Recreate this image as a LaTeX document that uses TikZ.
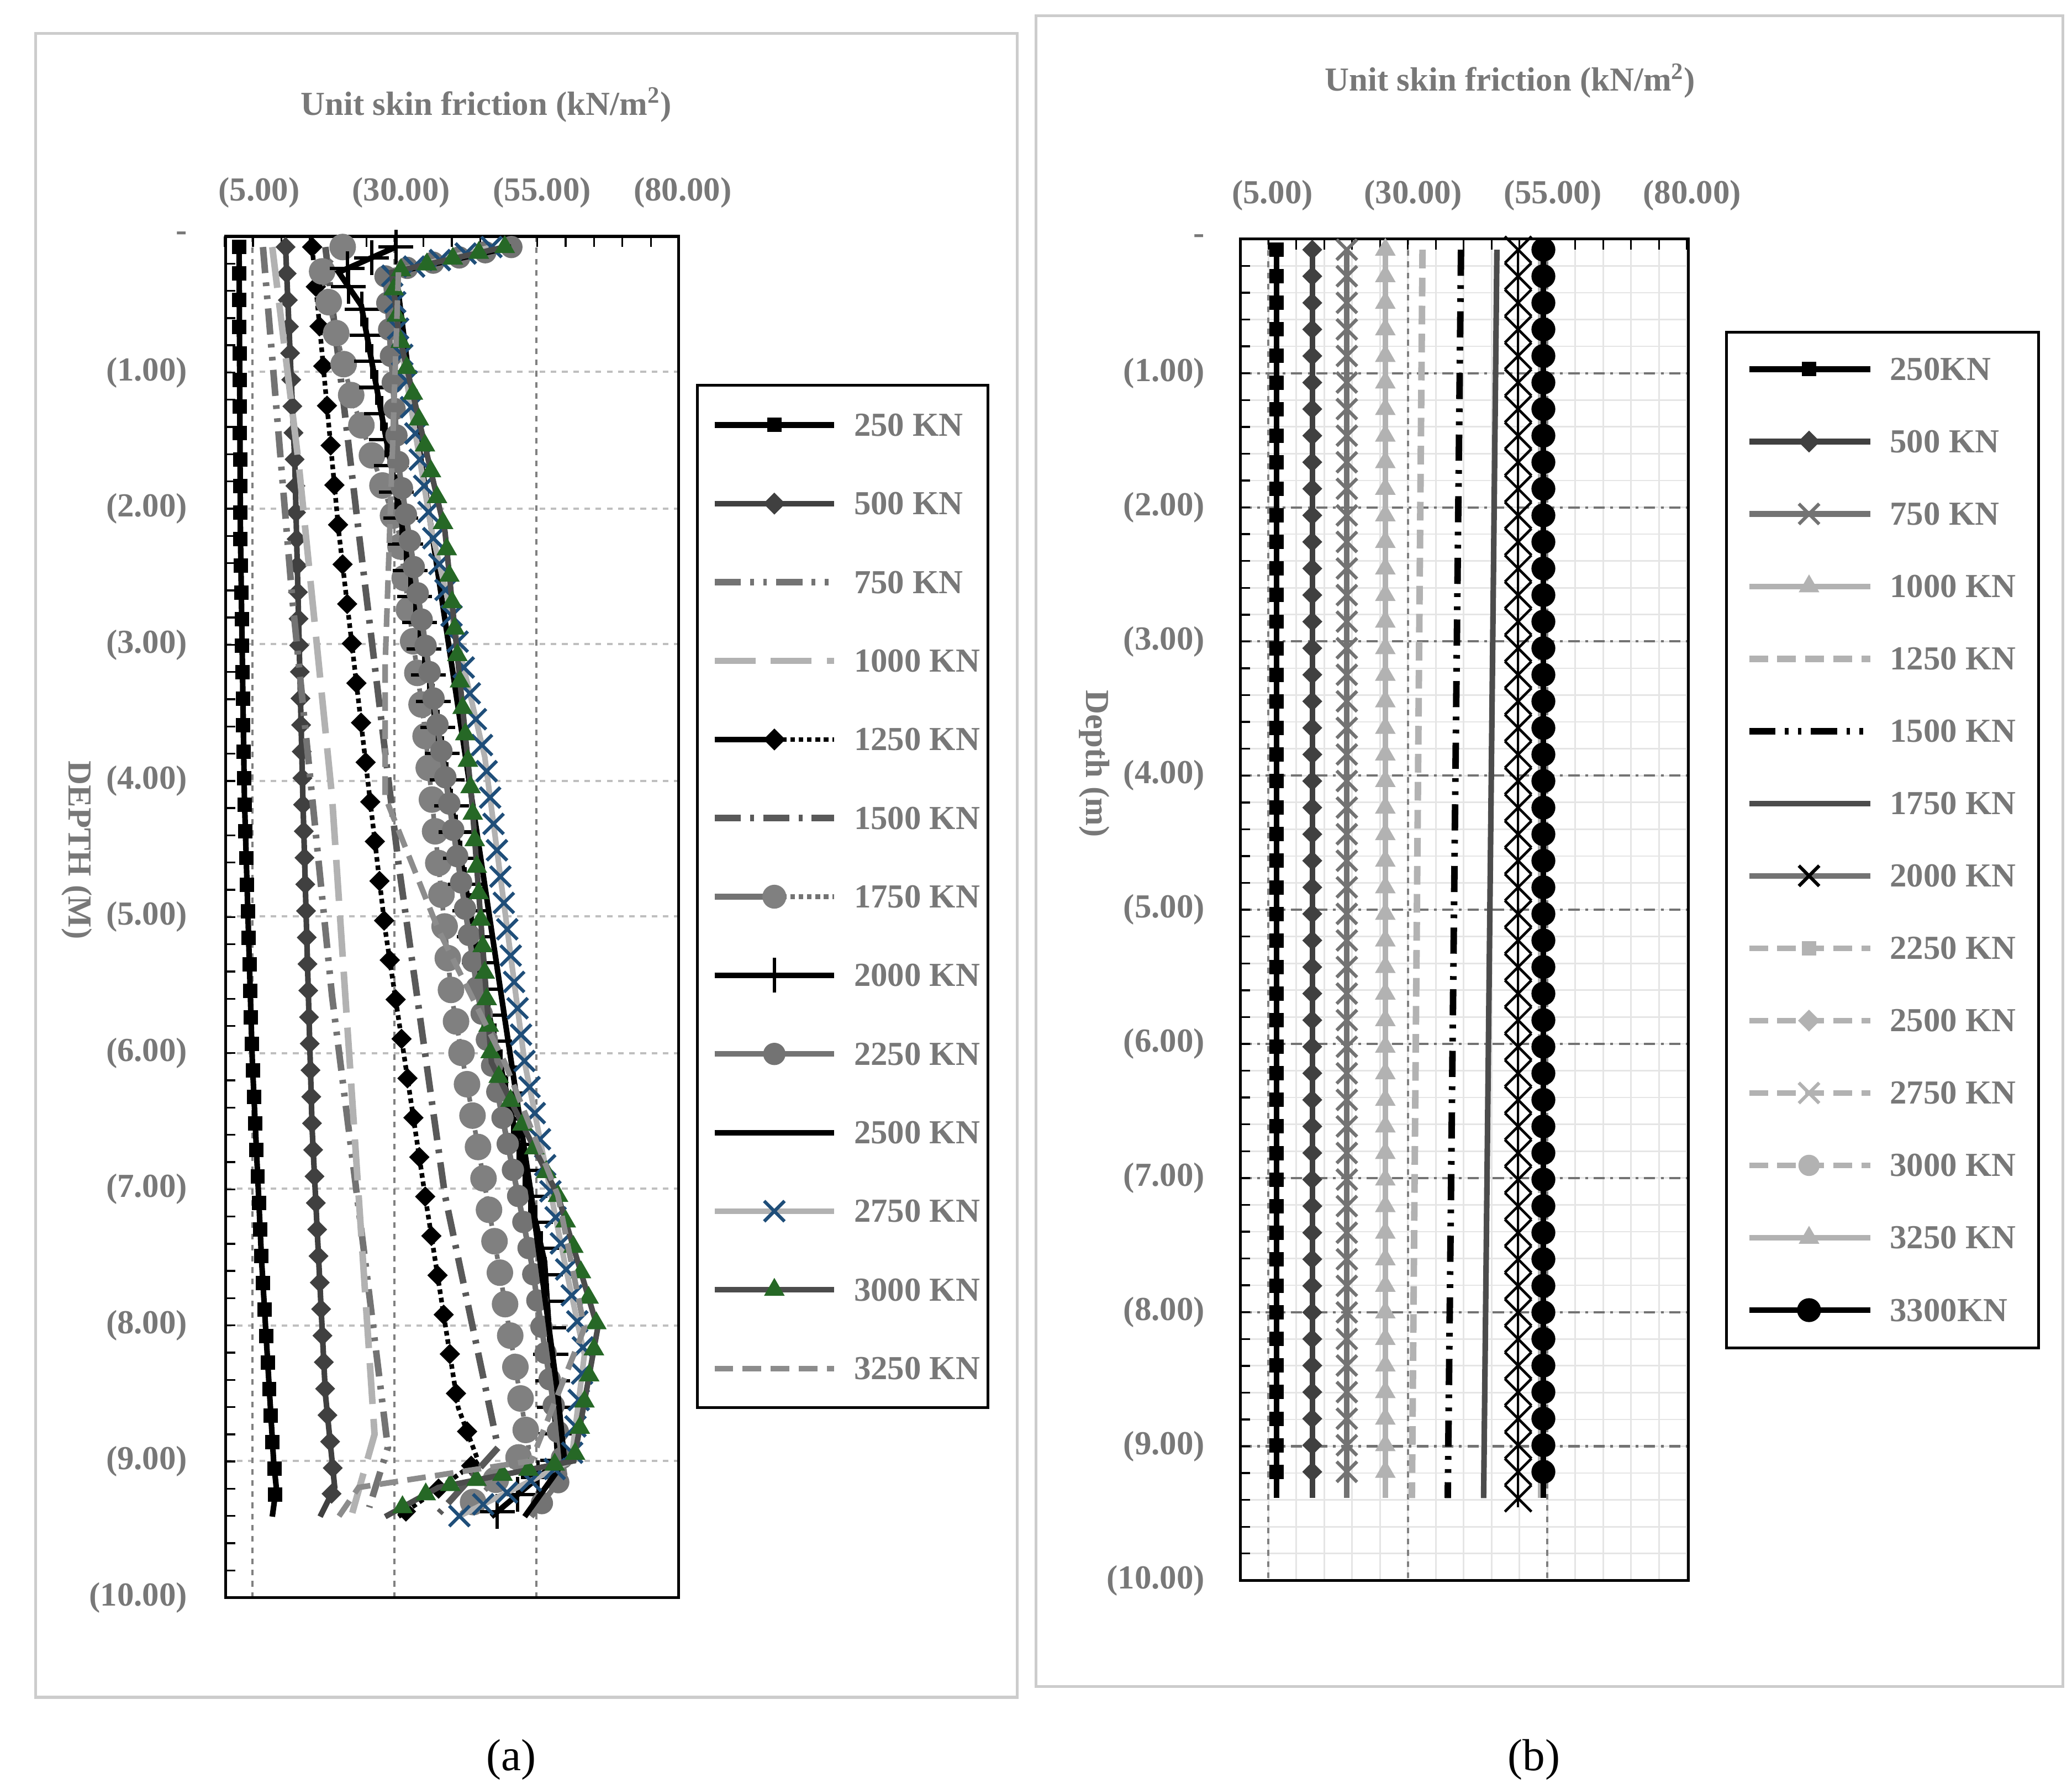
\documentclass[tikz,border=0pt]{standalone}
\usepackage{fontspec}
\setmainfont{Liberation Serif}
\usetikzlibrary{decorations.markings,shapes.geometric,shapes.misc}
\definecolor{tx}{RGB}{120,120,120}
\definecolor{bl}{RGB}{31,78,121}
\definecolor{gr}{RGB}{38,104,38}
\tikzset{
 mk/.style 2 args={postaction={decorate,decoration={markings,mark=between positions 0 and 1 step #2 with {\node[#1]{};}}}},
 sq/.style={fill=#1,inner sep=0,minimum size=0.27cm},
 dia/.style={diamond,fill=#1,inner sep=0,minimum size=0.42cm},
 cir/.style={circle,inner sep=0,minimum size=#1},
 crs/.style={cross out,draw=#1,line width=1.8pt,inner sep=0,minimum size=0.32cm},
 pls/.style={cross out,rotate=45,draw=#1,line width=1.8pt,inner sep=0,minimum size=0.4cm},
 tri/.style={regular polygon,regular polygon sides=3,fill=#1,inner sep=0,minimum size=0.45cm},
 lab/.style={font=\fontsize{18}{22}\selectfont\bfseries,text=tx},
 leg/.style={font=\fontsize{18}{22}\selectfont\bfseries,text=tx,anchor=west},
 frame/.style={draw=black!20,line width=1.5pt},
 ln/.style={line width=3pt},
 dsh/.style={dash pattern=on 10pt off 5pt},
}
\begin{document}
\begin{tikzpicture}[x=0.025cm,y=-0.025cm]
\useasboundingbox (0,0) rectangle (1560,1343);
% ================= panel a
\draw[frame] (27,25) rectangle (766,1278);
\foreach \y in {280,383,485,588,690,793,895,998,1100} \draw[black!25,dashed,line width=1.2pt] (170,\y)--(511,\y);
\foreach \x in {190,297,404} \draw[black!50,dashed,line width=1.2pt] (\x,178)--(\x,1203);
\draw[line width=1.5pt] (170,178) rectangle (511,1203);
\foreach \i in {0,...,16} \draw[line width=1pt] (169+21.4*\i,178)--(169+21.4*\i,186);
\foreach \i in {0,...,50} \draw[line width=1pt] (170,178+20.5*\i)--(177,178+20.5*\i);
\node[lab] at (366,79) {Unit skin friction (kN/m\textsuperscript{2})};
\node[lab] at (195,145) {(5.00)};\node[lab] at (302,145) {(30.00)};
\node[lab] at (408,145) {(55.00)};\node[lab] at (514,145) {(80.00)};
\node[lab,anchor=east] at (146,178) {-};
\foreach \i in {1,...,10} \node[lab,anchor=east] at (146,178+102.5*\i) {(\i.00)};
\node[lab,rotate=-90] at (58,640) {DEPTH (M)};
% curves a
\draw[ln,black,mk={sq=black}{0.5cm}] (180,186)--(181,400)--(184,600)--(190,800)--(197,950)--(206,1100)--(208,1120)--(205,1142);
\draw[ln,black!75,mk={dia=black!75}{0.5cm}] (215,186)--(222,350)--(228,600)--(235,850)--(245,1050)--(252,1120)--(241,1142);
\draw[line width=3.5pt,black!55,dash pattern=on 14pt off 5pt on 2pt off 5pt on 2pt off 5pt] (198,186)--(220,450)--(250,750)--(275,950)--(292,1090)--(278,1135);
\draw[line width=3.5pt,black!30,dash pattern=on 22pt off 8pt] (205,186)--(225,350)--(250,600)--(270,900)--(282,1080)--(265,1140);
\draw[line width=2.5pt,black,dotted,mk={dia=black}{0.75cm}] (235,186)--(255,400)--(290,700)--(320,900)--(345,1060)--(360,1100)--(300,1142);
\draw[line width=3.5pt,black!65,dash pattern=on 14pt off 5pt on 2pt off 5pt] (245,186)--(270,400)--(300,650)--(335,900)--(375,1090)--(330,1140);
\draw[line width=2.5pt,black!55,dotted,mk={cir=0.5cm,fill=black!50}{0.6cm}] (258,186)--(242,205)--(265,300)--(300,400)--(320,550)--(340,750)--(375,950)--(398,1090)--(345,1142);
\draw[ln,black,mk={pls=black}{0.5cm}] (298,186)--(255,205)--(272,230)--(300,380)--(330,550)--(365,750)--(410,950)--(420,1100)--(370,1142);
\draw[ln,black!55,mk={cir=0.42cm,fill=black!55}{0.5cm}] (385,186)--(290,205)--(300,350)--(330,550)--(360,750)--(400,950)--(425,1110)--(400,1142);
\draw[ln,black] (385,186)--(298,205)--(310,300)--(340,500)--(370,700)--(400,900)--(420,1050)--(425,1100)--(395,1142);
\draw[ln,black!30,mk={crs=bl}{0.5cm}] (370,186)--(295,205)--(300,250)--(325,400)--(365,570)--(395,800)--(425,950)--(440,1020)--(430,1100)--(345,1142);
\draw[ln,black!70,mk={tri=gr}{0.5cm}] (380,186)--(295,205)--(300,250)--(335,400)--(355,600)--(370,800)--(420,900)--(450,1000)--(432,1100)--(330,1120)--(290,1142);
\draw[ln,black!45,dsh] (300,205)--(290,500)--(290,600)--(330,700)--(380,800)--(420,900)--(440,1000)--(400,1100)--(270,1120)--(255,1142);
% legend a
\draw[line width=1.5pt] (525,290) rectangle (744,1060);
\foreach \k in {0,...,12} \coordinate (L\k) at (538,320+59.2*\k);
\def\lg#1#2#3#4{\draw[#2] (L#1)--++(90,0); #3 \node[leg] at ([xshift=100*0.025cm]L#1) {#4};}
\lg{0}{ln,black}{\node[sq=black] at ([xshift=45*0.025cm]L0){};}{250 KN}
\lg{1}{ln,black!75}{\node[dia=black!75] at ([xshift=45*0.025cm]L1){};}{500 KN}
\lg{2}{line width=3.5pt,black!55,dash pattern=on 14pt off 5pt on 2pt off 5pt on 2pt off 5pt}{}{750 KN}
\lg{3}{line width=3.5pt,black!30,dash pattern=on 22pt off 8pt}{}{1000 KN}
\lg{4}{line width=2.5pt,black,dotted}{\draw[ln] (L4)--++(45,0); \node[dia=black] at ([xshift=45*0.025cm]L4){};}{1250 KN}
\lg{5}{line width=3.5pt,black!65,dash pattern=on 14pt off 5pt on 2pt off 5pt}{}{1500 KN}
\lg{6}{line width=2.5pt,black!55,dotted}{\draw[ln,black!55] (L6)--++(45,0); \node[cir=0.45cm,fill=black!50] at ([xshift=45*0.025cm]L6){};}{1750 KN}
\lg{7}{ln,black}{\node[pls=black] at ([xshift=45*0.025cm]L7){};}{2000 KN}
\lg{8}{ln,black!55}{\node[cir=0.42cm,fill=black!55] at ([xshift=45*0.025cm]L8){};}{2250 KN}
\lg{9}{ln,black}{}{2500 KN}
\lg{10}{ln,black!30}{\node[crs=bl] at ([xshift=45*0.025cm]L10){};}{2750 KN}
\lg{11}{ln,black!70}{\node[tri=gr] at ([xshift=45*0.025cm]L11){};}{3000 KN}
\lg{12}{ln,black!45,dsh}{}{3250 KN}
% ================= panel b
\draw[frame] (780,12) rectangle (1553,1270);
\foreach \i in {1,...,16} \draw[black!10,line width=0.8pt] (934+21*\i,180)--(934+21*\i,1190);
\foreach \i in {1,...,50} \draw[black!10,line width=0.8pt] (934,180+20.2*\i)--(1271,180+20.2*\i);
\foreach \i in {1,...,9} \draw[black!55,dash pattern=on 6pt off 3pt on 1.5pt off 3pt,line width=1.2pt] (934,180+101*\i)--(1271,180+101*\i);
\foreach \x in {955,1060,1165} \draw[black!50,dashed,line width=1.2pt] (\x,180)--(\x,1190);
\draw[line width=1.5pt] (934,180) rectangle (1271,1190);
\foreach \i in {0,...,16} \draw[line width=1pt] (934+21*\i,180)--(934+21*\i,188);
\foreach \i in {0,...,50} \draw[line width=1pt] (934,180+20.2*\i)--(941,180+20.2*\i);
\node[lab] at (1137,61) {Unit skin friction (kN/m\textsuperscript{2})};
\node[lab] at (958,147) {(5.00)};\node[lab] at (1064,147) {(30.00)};
\node[lab] at (1169,147) {(55.00)};\node[lab] at (1274,147) {(80.00)};
\node[lab,anchor=east] at (912,180) {-};
\foreach \i in {1,...,10} \node[lab,anchor=east] at (912,180+101*\i) {(\i.00)};
\node[lab,rotate=-90] at (824,575) {Depth (m)};
\draw[ln,black!30,dsh] (1160,188)--(1160,1128);
\draw[ln,black,mk={sq=black}{0.5cm}] (961,188)--(961,1128);
\draw[ln,black!75,mk={dia=black!75}{0.5cm}] (988,188)--(988,1128);
\draw[ln,black!55,mk={crs=black!55}{0.5cm}] (1014,188)--(1014,1128);
\draw[ln,black!30,mk={tri=black!30}{0.5cm}] (1043,188)--(1043,1128);
\draw[line width=3.5pt,black!30,dsh] (1071,188)--(1063,1128);
\draw[line width=3.5pt,black,dash pattern=on 14pt off 5pt on 2pt off 5pt on 2pt off 5pt] (1100,188)--(1090,1128);
\draw[ln,black!70] (1127,188)--(1117,1128);
\draw[line width=1.2pt,black,mk={crs=black,minimum size=0.45cm,line width=1.4pt}{0.5cm}] (1143,188)--(1143,1135);
\draw[ln,black,mk={cir=0.45cm,fill=black}{0.5cm}] (1162,188)--(1162,1128);
% legend b
\draw[line width=1.5pt] (1300,250) rectangle (1535,1015);
\foreach \k in {0,...,13} \coordinate (M\k) at (1317,278+54.5*\k);
\def\mg#1#2#3#4{\draw[#2] (M#1)--++(91,0); #3 \node[leg] at ([xshift=101*0.025cm]M#1) {#4};}
\mg{0}{ln,black}{\node[sq=black] at ([xshift=45*0.025cm]M0){};}{250KN}
\mg{1}{ln,black!75}{\node[dia=black!75] at ([xshift=45*0.025cm]M1){};}{500 KN}
\mg{2}{ln,black!55}{\node[crs=black!55] at ([xshift=45*0.025cm]M2){};}{750 KN}
\mg{3}{ln,black!30}{\node[tri=black!30] at ([xshift=45*0.025cm]M3){};}{1000 KN}
\mg{4}{line width=3.5pt,black!30,dsh}{}{1250 KN}
\mg{5}{line width=3.5pt,black,dash pattern=on 14pt off 5pt on 2pt off 5pt on 2pt off 5pt}{}{1500 KN}
\mg{6}{ln,black!70}{}{1750 KN}
\mg{7}{ln,black!55}{\node[crs=black] at ([xshift=45*0.025cm]M7){};}{2000 KN}
\mg{8}{ln,black!30,dsh}{\node[sq=black!30] at ([xshift=45*0.025cm]M8){};}{2250 KN}
\mg{9}{ln,black!30,dsh}{\node[dia=black!30] at ([xshift=45*0.025cm]M9){};}{2500 KN}
\mg{10}{ln,black!30,dsh}{\node[crs=black!30] at ([xshift=45*0.025cm]M10){};}{2750 KN}
\mg{11}{ln,black!30,dsh}{\node[cir=0.4cm,fill=black!30] at ([xshift=45*0.025cm]M11){};}{3000 KN}
\mg{12}{ln,black!30}{\node[tri=black!30] at ([xshift=45*0.025cm]M12){};}{3250 KN}
\mg{13}{ln,black}{\node[cir=0.45cm,fill=black] at ([xshift=45*0.025cm]M13){};}{3300KN}
% captions
\node[font=\fontsize{24}{28}\selectfont] at (385,1325) {(a)};
\node[font=\fontsize{24}{28}\selectfont] at (1155,1325) {(b)};
\end{tikzpicture}
\end{document}
